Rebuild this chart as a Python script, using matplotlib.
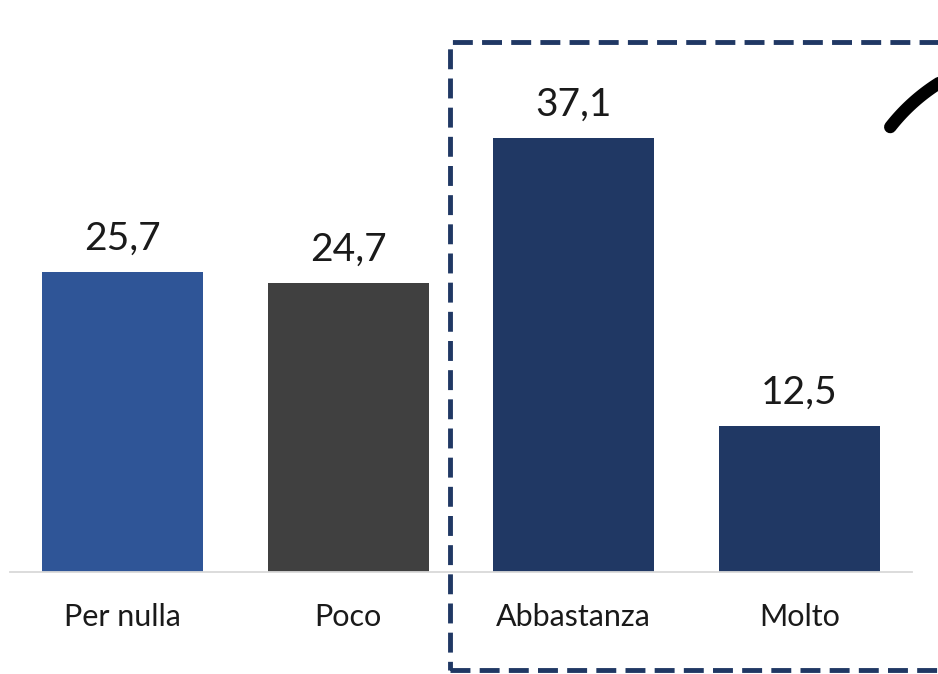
import numpy as np
import matplotlib
matplotlib.use('Agg')
import matplotlib.pyplot as plt
from matplotlib.patches import Rectangle
from matplotlib.lines import Line2D

categories = ['Per nulla', 'Poco', 'Abbastanza', 'Molto']
values = [25.7, 24.7, 37.1, 12.5]
colors = ['#2F5597', '#404040', '#203864', '#203864']

plt.rcParams['font.family'] = ['Lato', 'DejaVu Sans']

W, H = 938, 674
fig = plt.figure(figsize=(W / 100, H / 100), dpi=100)
ax = fig.add_axes([10 / W, 102 / H, 902 / W, 526 / H])

x = np.arange(len(categories))
bars = ax.bar(x, values, width=0.715, color=colors, zorder=2)

for b, v in zip(bars, values):
    ax.annotate(f'{v:.1f}'.replace('.', ','),
                (b.get_x() + b.get_width() / 2, v),
                xytext=(0, 11), textcoords='offset points',
                ha='center', va='bottom', fontsize=28,
                fontweight='normal', color='#1a1a1a')

ax.set_xlim(-0.5, 3.5)
ax.set_ylim(0, 45)
ax.set_xticks(x)
ax.set_xticklabels(categories, fontsize=22, fontweight='normal', color='#1a1a1a')
ax.tick_params(axis='x', length=0, pad=22)
ax.set_yticks([])
for s in ['top', 'right', 'left']:
    ax.spines[s].set_visible(False)
ax.spines['bottom'].set_color('#D9D9D9')
ax.spines['bottom'].set_linewidth(1.3)

# dashed frame around the last two categories
frame = Rectangle((450 / W, 4 / H), 600 / W, 628 / H,
                  transform=fig.transFigure, fill=False,
                  edgecolor='#203864', linewidth=3.5,
                  linestyle=(0, (4.1, 1.9)), clip_on=False)
fig.add_artist(frame)

# curved black stroke in the top-right corner
cx, cy, r = 1040, 244, 190
t = np.linspace(np.radians(142), np.radians(118), 40)
px = cx + r * np.cos(t)
py = cy - r * np.sin(t)
fig.add_artist(Line2D(px / W, 1 - py / H, transform=fig.transFigure,
                      color='black', linewidth=9, solid_capstyle='round'))

fig.savefig('out.png', dpi=100)
